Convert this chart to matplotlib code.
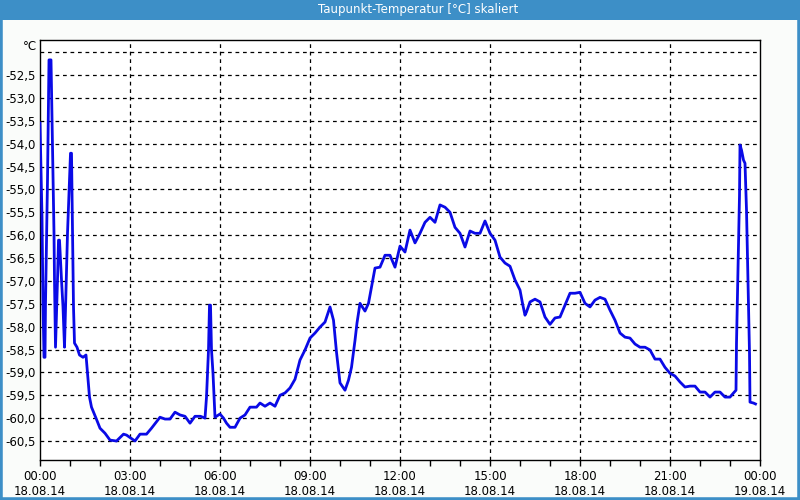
import matplotlib
matplotlib.use("Agg")
import matplotlib.pyplot as plt
from matplotlib.patches import Rectangle

# minutes since 18.08.14 00:00
t_min = [
    0, 2, 4, 5, 6, 8, 10, 11, 15, 18, 22, 24, 26, 28, 29, 31, 35, 37, 39, 43,
    46, 49, 55, 58, 61, 63, 65, 67, 69, 74, 79, 86, 92, 95, 99, 103, 112, 120,
    130, 140, 153, 167, 173, 190, 200, 213, 223, 240, 250, 260, 270, 280, 290,
    300, 310, 321, 330, 333, 337, 339, 341, 343, 346, 350, 360, 367, 373, 380,
    390, 400, 410, 420, 433, 440, 450, 460, 470, 480, 490, 500, 510, 520, 530,
    540, 550, 560, 570, 580, 587, 593, 600, 610, 617, 623, 630, 634, 640, 650,
    657, 663, 670, 680, 690, 700, 710, 720, 730, 740, 750, 760, 770, 780, 790,
    800, 810, 820, 830, 840, 850, 860, 870, 880, 890, 900, 910, 920, 930, 940,
    950, 960, 965, 970, 973, 980, 990, 1000, 1010, 1020, 1030, 1040, 1050,
    1060, 1070, 1080, 1090, 1100, 1110, 1120, 1130, 1140, 1150, 1160, 1170,
    1180, 1190, 1200, 1210, 1220, 1230, 1240, 1250, 1260, 1270, 1280, 1290,
    1300, 1310, 1320, 1330, 1340, 1350, 1360, 1370, 1380, 1387, 1392, 1393,
    1395, 1397, 1399, 1400, 1403, 1407, 1410, 1413, 1415, 1417, 1419, 1420,
    1427, 1431,
]
taupunkt = [
    -53.55, -54.58, -55.61, -56.61, -57.49, -58.67, -58.67, -57.49, -54.80,
    -52.17, -52.17, -53.44, -54.73, -55.96, -56.98, -58.45, -56.98, -56.11,
    -56.11, -56.98, -57.57, -58.45, -55.96, -55.06, -54.21, -54.21, -55.89,
    -57.57, -58.36, -58.45, -58.62, -58.67, -58.62, -59.02, -59.54, -59.76,
    -60.00, -60.22, -60.33, -60.48, -60.50, -60.35, -60.37, -60.50, -60.35,
    -60.35, -60.22, -59.98, -60.02, -60.02, -59.87, -59.93, -59.96, -60.11,
    -59.96, -59.96, -60.00, -59.54, -58.51, -57.53, -57.53, -58.51, -59.02,
    -59.98, -59.91, -60.00, -60.11, -60.20, -60.20, -60.00, -59.93, -59.76,
    -59.76, -59.67, -59.74, -59.67, -59.74, -59.50, -59.45, -59.34, -59.15,
    -58.73, -58.51, -58.25, -58.14, -58.01, -57.90, -57.57, -57.86, -58.56,
    -59.23, -59.39, -59.17, -58.89, -58.30, -57.92, -57.49, -57.66, -57.49,
    -57.14, -56.72, -56.70, -56.44, -56.44, -56.70, -56.24, -56.37, -55.89,
    -56.17, -55.96, -55.72, -55.61, -55.72, -55.34, -55.39, -55.50, -55.83,
    -55.96, -56.26, -55.91, -55.96, -55.96, -55.69, -55.96, -56.11, -56.48,
    -56.61, -56.68, -56.98, -57.20, -57.49, -57.75, -57.68, -57.46, -57.40,
    -57.46, -57.79, -57.95, -57.81, -57.79, -57.53, -57.27, -57.27, -57.25,
    -57.49, -57.57, -57.42, -57.36, -57.40, -57.64, -57.86, -58.14, -58.23,
    -58.25, -58.38, -58.45, -58.45, -58.51, -58.71, -58.71, -58.89, -59.02,
    -59.08, -59.21, -59.32, -59.30, -59.30, -59.43, -59.43, -59.54, -59.43,
    -59.43, -59.54, -59.54, -59.45, -59.39, -58.36, -57.27, -56.17, -55.13,
    -54.03, -54.14, -54.36, -54.43, -55.45, -56.48, -57.57, -58.58, -59.65,
    -59.67, -59.69,
]

x_major = [0, 180, 360, 540, 720, 900, 1080, 1260, 1440]
x_labels = [
    "00:00\n18.08.14", "03:00\n18.08.14", "06:00\n18.08.14", "09:00\n18.08.14",
    "12:00\n18.08.14", "15:00\n18.08.14", "18:00\n18.08.14", "21:00\n18.08.14",
    "00:00\n19.08.14",
]
x_minor = list(range(0, 1441, 60))
y_ticks = [-52.0, -52.5, -53.0, -53.5, -54.0, -54.5, -55.0, -55.5, -56.0,
           -56.5, -57.0, -57.5, -58.0, -58.5, -59.0, -59.5, -60.0, -60.5]
y_labels = [""] + [f"{v:.1f}".replace(".", ",") for v in y_ticks[1:]]

border_blue = "#3d8fc7"

fig = plt.figure(figsize=(8, 5), dpi=100, facecolor="#fafcfa")
ax = fig.add_axes([0.05, 0.08, 0.90, 0.84])

for y in y_ticks:
    ax.axhline(y, color="black", lw=0.9, ls=(0, (3, 3)), zorder=1)
for x in x_major[1:-1]:
    ax.axvline(x, color="black", lw=0.9, ls=(0, (3, 3)), zorder=1)

ax.plot(t_min, taupunkt, color="#0a0ae6", lw=2, zorder=3)

ax.set_xlim(0, 1440)
ax.set_ylim(-60.915, -51.735)
ax.set_xticks(x_major)
ax.set_xticklabels(x_labels, fontsize=8.5, linespacing=1.25)
ax.set_xticks(x_minor, minor=True)
ax.tick_params(axis="x", which="both", direction="out", length=4, width=1, pad=3)
ax.set_yticks(y_ticks)
ax.set_yticklabels(y_labels, fontsize=8.5)
ax.tick_params(axis="y", length=0, pad=3)
for s in ax.spines.values():
    s.set_linewidth(1)
ax.text(-0.004, 1.0, "°C", transform=ax.transAxes, ha="right", va="top",
        fontsize=8.5)

# window frame and title bar
fig.patches.append(Rectangle((0, 0), 1, 1, transform=fig.transFigure,
                             fill=False, edgecolor=border_blue, lw=4))
fig.patches.append(Rectangle((0, 0.96), 1, 0.04, transform=fig.transFigure,
                             facecolor=border_blue, edgecolor="none"))
fig.text(0.5225, 0.98, "Taupunkt-Temperatur [°C] skaliert", color="white",
         ha="center", va="center", fontsize=8.5)

fig.savefig("out.png", dpi=100, facecolor=fig.get_facecolor())
